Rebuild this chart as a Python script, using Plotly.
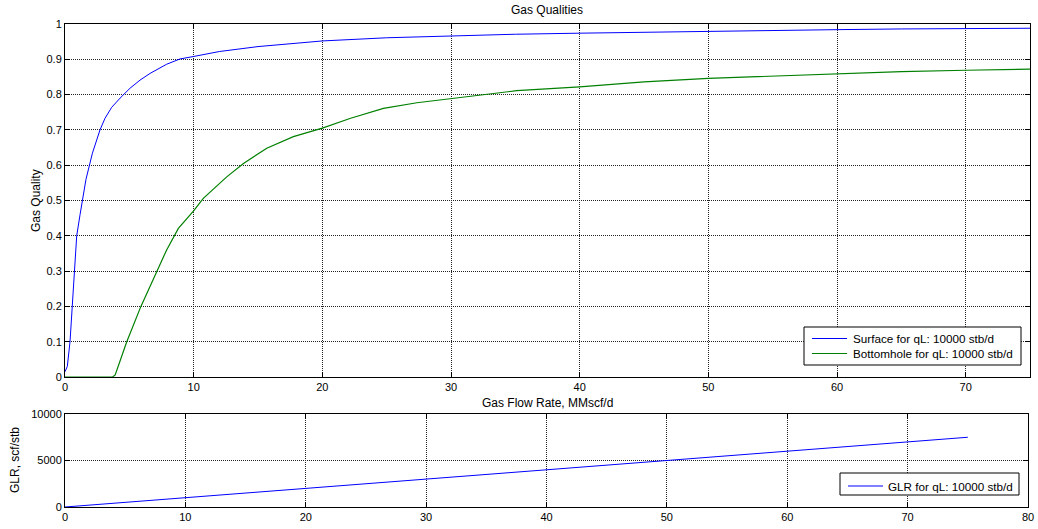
import plotly.graph_objects as go

# Gas flow rate (MMscf/d) and gas quality at the surface
qg_surface = [0.0, 0.18, 0.39, 0.57, 0.73, 0.91, 1.17, 1.37, 1.63, 2.13, 2.72, 3.11,
              3.63, 4.28, 5.05, 5.83, 6.61, 7.9, 8.94, 10.0, 12.0, 15.0, 18.3, 20.0,
              25.0, 30.0, 35.0, 40.0, 45.0, 50.0, 55.0, 60.0, 65.0, 70.0, 75.0]
x_surface = [0.015, 0.03, 0.10, 0.20, 0.30, 0.40, 0.46, 0.50, 0.56, 0.634, 0.70, 0.733,
             0.764, 0.79, 0.818, 0.841, 0.86, 0.886, 0.901, 0.908, 0.922, 0.936, 0.947, 0.952,
             0.961, 0.967, 0.971, 0.974, 0.977, 0.980, 0.982, 0.984, 0.986, 0.987, 0.988]

# Gas quality at the bottomhole
qg_bottom = [0.0, 1.0, 2.0, 3.0, 3.7, 3.9, 4.8, 5.9, 7.13, 7.9, 8.81, 9.98, 10.75, 12.57,
             13.87, 15.68, 17.75, 20.0, 22.2, 24.75, 27.35, 30.0, 35.1, 40.0, 45.0,
             50.0, 55.0, 60.0, 65.0, 70.0, 75.0]
x_bottom = [0.0, 0.0, 0.0, 0.0, 0.0, 0.006, 0.10, 0.20, 0.30, 0.36, 0.421, 0.47, 0.506, 0.567,
            0.605, 0.648, 0.681, 0.705, 0.733, 0.761, 0.777, 0.788, 0.811, 0.822, 0.836,
            0.846, 0.853, 0.860, 0.865, 0.869, 0.872]

# Gas-liquid ratio (scf/stb)
qg_glr = [0.0, 25.0, 50.0, 75.0]
glr = [0.0, 2500.0, 5000.0, 7500.0]

W, H = 1038, 529
FONT = "Liberation Sans, Arial, sans-serif"
BLUE, GREEN = "#0000FF", "#008000"

series = [
    dict(x=qg_surface, y=x_surface, color=BLUE, width=1,
         name="Surface for qL: 10000 stb/d", axes=("x", "y")),
    dict(x=qg_bottom, y=x_bottom, color=GREEN, width=1.2,
         name="Bottomhole for qL: 10000 stb/d", axes=("x", "y")),
    dict(x=qg_glr, y=glr, color=BLUE, width=1,
         name="GLR for qL: 10000 stb/d", axes=("x2", "y2")),
]

fig = go.Figure()
for s in series:
    fig.add_trace(go.Scatter(x=s["x"], y=s["y"], mode="lines",
                             line=dict(color=s["color"], width=s["width"]),
                             name=s["name"], xaxis=s["axes"][0], yaxis=s["axes"][1],
                             showlegend=False, cliponaxis=False))

axis_common = dict(
    showline=True, linecolor="black", linewidth=1, mirror="ticks",
    ticks="inside", ticklen=5, tickcolor="black", tickwidth=1,
    showgrid=True, gridcolor="#222222", griddash="1px,1px", gridwidth=1,
    zeroline=False, tickfont=dict(family=FONT, size=11, color="black"),
    layer="below traces",
)


def px_x(a, b):
    return [a / W, b / W]


def px_y(top, bottom):
    return [1 - bottom / H, 1 - top / H]


shapes = []
annotations = []


def boxed_legend(box, entries):
    """Framed legend in pixel coordinates: box=(x0, y0, x1, y1); entries of
    (trace, row_y, line_x0, line_x1, text_x)."""
    x0, y0, x1, y1 = box
    shapes.append(dict(type="rect", xref="paper", yref="paper",
                       x0=x0 / W, x1=x1 / W, y0=1 - y1 / H, y1=1 - y0 / H,
                       line=dict(color="black", width=1), fillcolor="white",
                       layer="above"))
    for s, ry, lx0, lx1, tx in entries:
        shapes.append(dict(type="line", xref="paper", yref="paper",
                           x0=lx0 / W, x1=lx1 / W, y0=1 - ry / H, y1=1 - ry / H,
                           line=dict(color=s["color"], width=1), layer="above"))
        annotations.append(dict(text=s["name"], x=tx / W, y=1 - ry / H,
                                xref="paper", yref="paper", showarrow=False,
                                xanchor="left", yanchor="middle",
                                font=dict(family=FONT, size=11.7, color="black")))


boxed_legend((804, 327, 1021, 365),
             [(series[0], 338.5, 812, 847, 851),
              (series[1], 353.5, 812, 847, 851)])
boxed_legend((840, 473, 1019, 495),
             [(series[2], 486, 848, 883, 886)])

annotations += [
    dict(text="Gas Qualities", x=547 / W, y=1 - 10 / H, xref="paper", yref="paper",
         showarrow=False, xanchor="center", yanchor="middle",
         font=dict(family=FONT, size=12)),
    dict(text="Gas Flow Rate, MMscf/d", x=547 / W, y=1 - 403 / H, xref="paper",
         yref="paper", showarrow=False, xanchor="center", yanchor="middle",
         font=dict(family=FONT, size=12)),
    dict(text="Gas Quality", x=36 / W, y=1 - 200 / H, xref="paper", yref="paper",
         showarrow=False, textangle=-90, xanchor="center", yanchor="middle",
         font=dict(family=FONT, size=12)),
    dict(text="GLR, scf/stb", x=15 / W, y=1 - 460 / H, xref="paper", yref="paper",
         showarrow=False, textangle=-90, xanchor="center", yanchor="middle",
         font=dict(family=FONT, size=12)),
]

fig.update_layout(
    width=W, height=H,
    margin=dict(l=0, r=0, t=0, b=0, autoexpand=False),
    paper_bgcolor="white", plot_bgcolor="white",
    font=dict(family=FONT, size=11, color="black"),
    showlegend=False,
    xaxis=dict(axis_common, domain=px_x(65, 1030), range=[0, 75], dtick=10,
               anchor="y"),
    yaxis=dict(axis_common, domain=px_y(24, 377), range=[0, 1], dtick=0.1,
               anchor="x"),
    xaxis2=dict(axis_common, domain=px_x(65, 1028), range=[0, 80], dtick=10,
                anchor="y2"),
    yaxis2=dict(axis_common, domain=px_y(414, 507), range=[0, 10000],
                tickvals=[0, 5000, 10000], tickformat="d", anchor="x2"),
    shapes=shapes,
    annotations=annotations,
)

fig.write_html("out.html")
